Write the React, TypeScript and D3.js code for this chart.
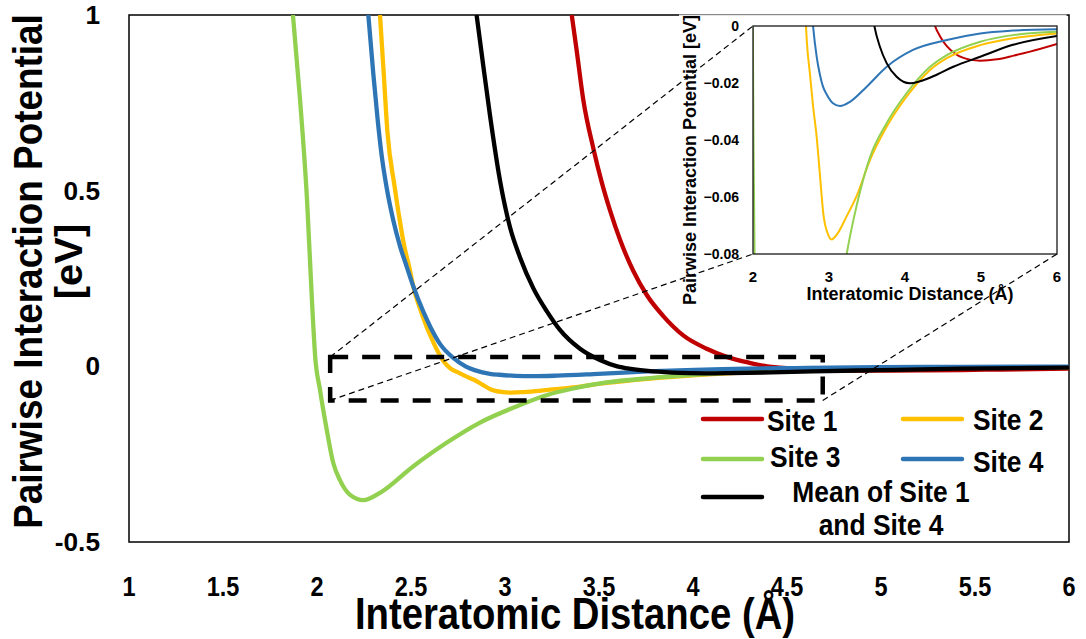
import React from "react";
import * as d3 from "d3";

// ---------- data ----------
const X_TICKS = [1, 1.5, 2, 2.5, 3, 3.5, 4, 4.5, 5, 5.5, 6];
const Y_TICKS = [1, 0.5, 0, -0.5];
const INSET_X_TICKS = [2, 3, 4, 5, 6];
const INSET_Y_TICKS = [0, -0.02, -0.04, -0.06, -0.08];

const site1X = [3.355, 3.381, 3.416, 3.47, 3.514, 3.559, 3.612, 3.682, 3.754, 3.842, 3.948, 4.073, 4.179, 4.3, 4.395, 4.46, 4.55, 4.68, 4.855, 4.99, 5.21, 5.43, 5.645, 6.0];
const site1Y = [1.0, 0.9, 0.76, 0.62, 0.525, 0.443, 0.36, 0.272, 0.203, 0.143, 0.088, 0.05, 0.027, 0.01, 0.0, -0.0036, -0.0071, -0.0101, -0.0118, -0.0122, -0.0117, -0.0104, -0.009, -0.0063];

const site2X = [2.335, 2.353, 2.375, 2.413, 2.44, 2.465, 2.49, 2.512, 2.556, 2.619, 2.655, 2.68, 2.71, 2.75, 2.79, 2.838, 2.88, 2.925, 2.99, 3.035, 3.1, 3.23, 3.36, 3.54, 3.76, 4.02, 4.33, 4.55, 4.99, 5.42, 6.0];
const site2Y = [1.0, 0.85, 0.665, 0.511, 0.416, 0.34, 0.284, 0.228, 0.152, 0.068, 0.03, 0.01, -0.006, -0.017, -0.028, -0.039, -0.052, -0.0658, -0.0733, -0.0749, -0.0733, -0.0669, -0.0599, -0.047, -0.0353, -0.0248, -0.0154, -0.0113, -0.0067, -0.0043, -0.0026];

const site3X = [1.872, 1.91, 1.947, 1.973, 1.99, 2.016, 2.052, 2.087, 2.122, 2.176, 2.246, 2.335, 2.511, 2.691, 2.867, 3.043, 3.233, 3.364, 3.54, 3.76, 4.02, 4.33, 4.55, 4.99, 5.42, 6.0];
const site3Y = [1.0, 0.758, 0.473, 0.189, 0.03, -0.067, -0.181, -0.276, -0.324, -0.366, -0.381, -0.36, -0.285, -0.217, -0.16, -0.118, -0.08, -0.063, -0.046, -0.034, -0.0236, -0.0143, -0.0102, -0.0055, -0.0032, -0.002];

const site4X = [2.273, 2.3, 2.323, 2.344, 2.37, 2.406, 2.441, 2.477, 2.512, 2.566, 2.605, 2.654, 2.725, 2.79, 2.838, 2.88, 2.92, 2.97, 3.057, 3.145, 3.276, 3.496, 3.76, 4.105, 4.55, 4.99, 5.42, 6.0];
const site4Y = [1.0, 0.83, 0.7, 0.6, 0.51, 0.415, 0.343, 0.284, 0.228, 0.155, 0.11, 0.064, 0.024, 0.0, -0.0108, -0.017, -0.0212, -0.024, -0.0272, -0.0281, -0.0266, -0.0213, -0.0143, -0.0084, -0.0049, -0.0026, -0.0016, -0.0011];

const meanX = [2.849, 2.885, 2.92, 2.973, 3.027, 3.08, 3.151, 3.222, 3.29, 3.399, 3.505, 3.597, 3.67, 3.76, 3.89, 4.066, 4.197, 4.417, 4.636, 4.99, 5.42, 6.0];
const meanY = [1.0, 0.853, 0.715, 0.53, 0.395, 0.31, 0.222, 0.157, 0.105, 0.05, 0.018, 0.0, -0.0073, -0.0131, -0.0178, -0.0201, -0.0194, -0.0171, -0.0143, -0.0108, -0.0066, -0.0035];

const SERIES_NAMES = ["Site 1", "Site 2", "Site 3", "Site 4", "Mean of Site 1 and Site 4"];
const SERIES_X = [site1X, site2X, site3X, site4X, meanX];
const SERIES_Y = [site1Y, site2Y, site3Y, site4Y, meanY];
const COLORS = ["#C00000", "#FFC000", "#92D050", "#2E75B6", "#000000"];

// zoom window drawn on the main chart (data coordinates)
const ZOOM_X = [2.07, 4.69];
const ZOOM_Y = [0.0265, -0.097];

// ---------- layout ----------
const W = 1086;
const H = 639;
const M = { left: 129, right: 1069, top: 15, bottom: 542 };
const I = { left: 753, right: 1057, top: 26, bottom: 254 };
const FONT = "'Liberation Sans', Arial, Helvetica, sans-serif";

function T(props: {
  x: number; y: number; size: number; sx?: number; rotate?: number;
  anchor?: string; children: React.ReactNode;
}) {
  const { x, y, size, sx = 1, rotate = 0, anchor = "middle", children } = props;
  return (
    <text
      transform={`translate(${x},${y}) rotate(${rotate}) scale(${sx},1)`}
      fontSize={size}
      fontFamily={FONT}
      fontWeight="bold"
      textAnchor={anchor}
      fill="#000"
    >
      {children}
    </text>
  );
}

export default function App() {
  const x = d3.scaleLinear().domain([1, 6]).range([M.left, M.right]);
  const y = d3.scaleLinear().domain([-0.5, 1]).range([M.bottom, M.top]);
  const ix = d3.scaleLinear().domain([2, 6]).range([I.left, I.right]);
  const iy = d3.scaleLinear().domain([-0.08, 0]).range([I.bottom, I.top]);

  const seriesPts = SERIES_X.map((xs, k) => xs.map((v, i) => [v, SERIES_Y[k][i]] as [number, number]));

  const mainLine = d3
    .line<[number, number]>()
    .x((d) => x(d[0]))
    .y((d) => y(d[1]))
    .curve(d3.curveMonotoneX);
  const insetLine = d3
    .line<[number, number]>()
    .x((d) => ix(d[0]))
    .y((d) => iy(d[1]))
    .curve(d3.curveMonotoneX);

  const zx0 = x(ZOOM_X[0]);
  const zx1 = x(ZOOM_X[1]);
  const zy0 = y(ZOOM_Y[0]);
  const zy1 = y(ZOOM_Y[1]);

  // legend layout
  const legend = [
    { k: 0, lx: 703, ly: 419, tx: 767, ty: 431, anchor: "start", lines: ["Site 1"] },
    { k: 1, lx: 903, ly: 419, tx: 973, ty: 430, anchor: "start", lines: ["Site 2"] },
    { k: 2, lx: 703, ly: 459, tx: 770, ty: 467, anchor: "start", lines: ["Site 3"] },
    { k: 3, lx: 903, ly: 459, tx: 973, ty: 472, anchor: "start", lines: ["Site 4"] },
    { k: 4, lx: 703, ly: 497, tx: 881, ty: 502, anchor: "middle", lines: ["Mean of Site 1", "and Site 4"] },
  ];

  return (
    <div style={{ position: "absolute", left: 0, top: 0 }}>
      <svg width={W} height={H} viewBox={`0 0 ${W} ${H}`} style={{ display: "block", background: "#fff" }}>
        <defs>
          <clipPath id="mainClip">
            <rect x={M.left} y={M.top} width={M.right - M.left} height={M.bottom - M.top} />
          </clipPath>
          <clipPath id="insetClip">
            <rect x={I.left} y={I.top} width={I.right - I.left} height={I.bottom - I.top} />
          </clipPath>
        </defs>
        <rect x={0} y={0} width={W} height={H} fill="#fff" />

        {/* main frame */}
        <rect x={M.left} y={M.top} width={M.right - M.left} height={M.bottom - M.top} fill="none" stroke="#000" strokeWidth={1.5} />

        {/* main series */}
        <g clipPath="url(#mainClip)">
          {seriesPts.map((pts, k) => (
            <path key={k} d={mainLine(pts) || ""} fill="none" stroke={COLORS[k]} strokeWidth={4.3} strokeLinejoin="round">
              <title>{SERIES_NAMES[k]}</title>
            </path>
          ))}
        </g>

        {/* zoom window */}
        <rect
          x={zx0}
          y={zy0}
          width={zx1 - zx0}
          height={zy1 - zy0}
          fill="none"
          stroke="#000"
          strokeWidth={4.5}
          strokeDasharray="18 14"
        />

        {/* main ticks */}
        {X_TICKS.map((v) => (
          <T key={"x" + v} x={x(v)} y={596} size={28} sx={0.84}>
            {String(v)}
          </T>
        ))}
        {Y_TICKS.map((v) => (
          <T key={"y" + v} x={100} y={y(v) + 9} size={25} sx={1.05} anchor="end">
            {String(v)}
          </T>
        ))}

        {/* axis titles */}
        <T x={575} y={629} size={44} sx={0.87}>
          Interatomic Distance (Å)
        </T>
        <T x={42} y={271.5} size={41} sx={0.9} rotate={-90}>
          Pairwise Interaction Potential
        </T>
        <T x={82} y={261.5} size={38} sx={1.05} rotate={-90}>
          [eV]
        </T>

        {/* legend */}
        {legend.map((it) => (
          <g key={it.k}>
            <line x1={it.lx} x2={it.lx + 59} y1={it.ly} y2={it.ly} stroke={COLORS[it.k]} strokeWidth={4.5} strokeLinecap="round" />
            {it.lines.map((s, j) => (
              <T key={j} x={it.tx} y={it.ty + j * 33} size={29} sx={0.91} anchor={it.anchor}>
                {s}
              </T>
            ))}
          </g>
        ))}

        {/* inset */}
        <rect x={679} y={M.top} width={1066 - 679} height={312 - M.top} fill="#fff" />
        <line x1={679} x2={1067} y1={M.top} y2={M.top} stroke="#d0d0d0" strokeWidth={1} />
        <g clipPath="url(#insetClip)">
          {seriesPts.map((pts, k) => (
            <path key={k} d={insetLine(pts) || ""} fill="none" stroke={COLORS[k]} strokeWidth={2} strokeLinejoin="round" />
          ))}
        </g>
        <rect x={I.left} y={I.top} width={I.right - I.left} height={I.bottom - I.top} fill="none" stroke="#1a1a1a" strokeWidth={1.3} />
        {INSET_X_TICKS.map((v) => (
          <T key={"ix" + v} x={ix(v)} y={282} size={15}>
            {String(v)}
          </T>
        ))}
        {INSET_Y_TICKS.map((v) => (
          <T key={"iyl" + v} x={739} y={iy(v) + 5} size={14} anchor="end">
            {v === 0 ? "0" : d3.format(".2f")(v)}
          </T>
        ))}
        <T x={910} y={300} size={18}>
          Interatomic Distance (Å)
        </T>
        <T x={696} y={160} size={18} rotate={-90}>
          Pairwise Interaction Potential [eV]
        </T>

        {/* connector lines */}
        <g stroke="#000" strokeWidth={1.2} strokeDasharray="6 4" fill="none">
          <line x1={zx0} y1={zy0} x2={I.left} y2={I.top} />
          <line x1={zx0} y1={zy1} x2={I.left} y2={I.bottom} />
          <line x1={zx1} y1={zy1} x2={I.right} y2={I.bottom} />
        </g>
      </svg>
    </div>
  );
}
